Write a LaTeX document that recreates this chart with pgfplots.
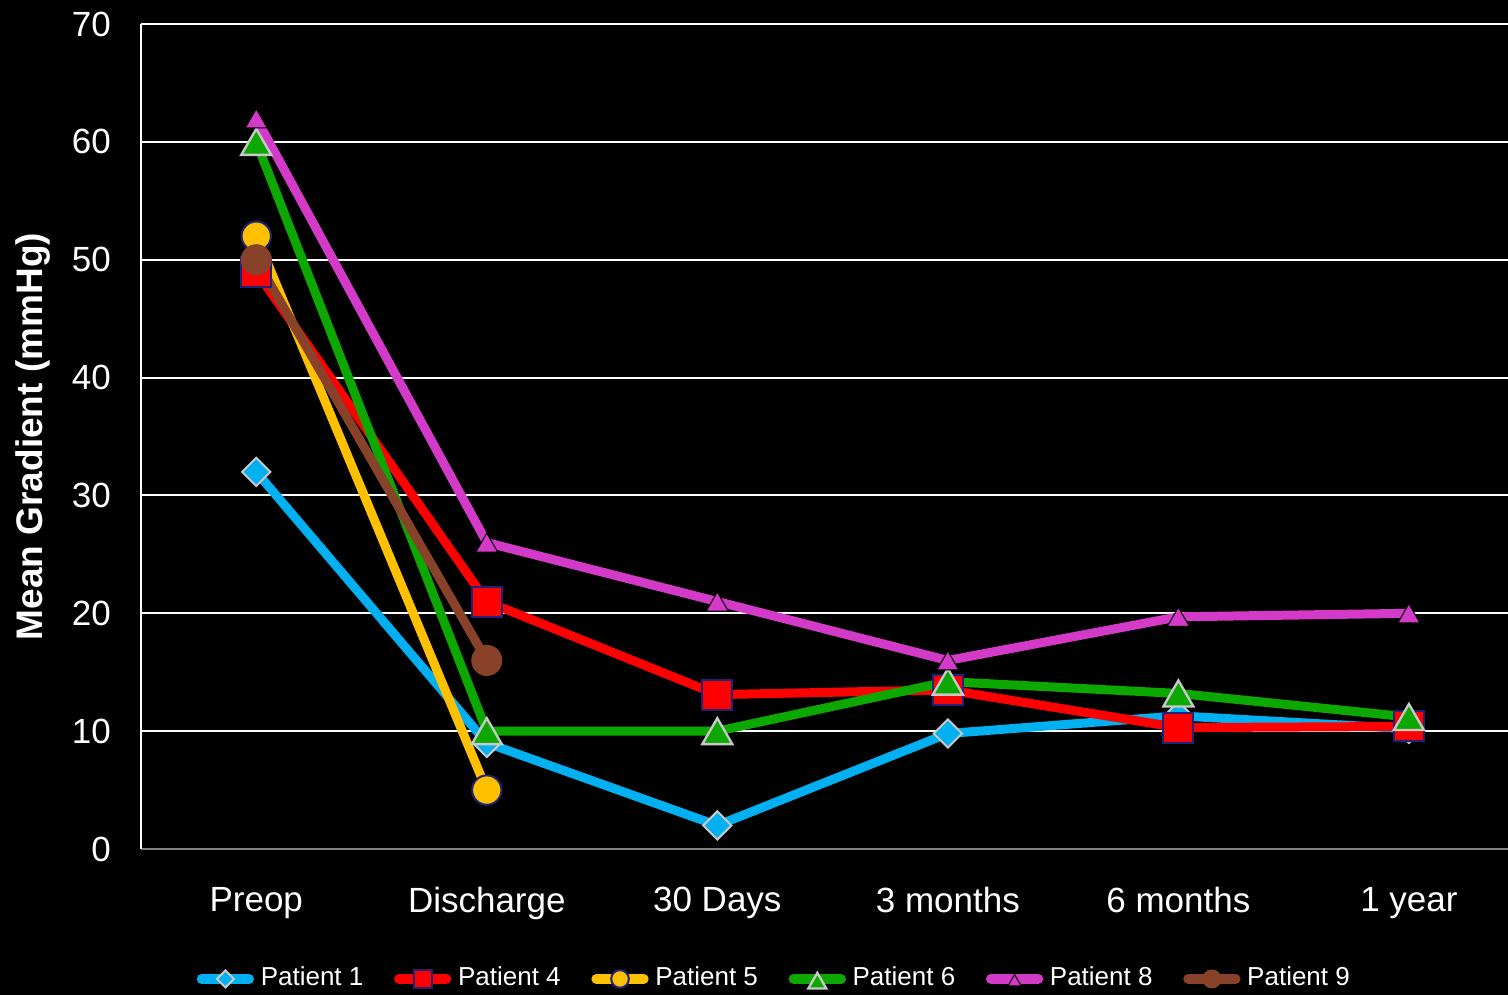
\documentclass[border=0pt]{standalone}
\usepackage{pgfplots}
\pgfplotsset{compat=1.18}
\usepackage{fontspec}
\setmainfont{Liberation Sans}
\definecolor{pcyan}{RGB}{0,176,240}
\definecolor{pred}{RGB}{255,0,0}
\definecolor{pyellow}{RGB}{255,192,0}
\definecolor{pgreen}{RGB}{12,168,0}
\definecolor{pmag}{RGB}{212,58,200}
\definecolor{pbrown}{RGB}{136,66,41}
\definecolor{navy}{RGB}{32,36,120}
\definecolor{lgray}{RGB}{200,200,200}
\begin{document}
\begin{tikzpicture}
\useasboundingbox (-42.3pt,-43.5pt) rectangle (410.1pt,254.7pt);
\fill[black] (-50pt,-50pt) rectangle (420pt,260pt);
\begin{axis}[
  at={(0,0)}, anchor=south west,
  scale only axis, width=410.1pt, height=247.5pt,
  xmin=-0.5, xmax=5.43, ymin=0, ymax=70,
  ytick={0,10,...,70},
  xtick={0,...,5},
  xticklabels={Preop,Discharge,30 Days,3 months,6 months,1 year},
  major tick length=0pt,
  axis lines*=left,
  x axis line style={draw=gray, line width=0.6pt},
  y axis line style={draw=white, line width=0.6pt},
  ymajorgrids, grid style={white, line width=0.6pt},
  /pgf/number format/assume math mode=true,
  tick label style={white, font=\fontsize{10.5}{12}\selectfont},
  yticklabel style={xshift=-5.5pt},
  xticklabel style={yshift=-8pt},
  ylabel={Mean Gradient (mmHg)},
  every axis y label/.style={at={(axis description cs:-0.0787,0.5)}, rotate=90, anchor=center, white, font=\fontsize{11.1}{13}\selectfont\bfseries},
  legend columns=6,
  legend style={at={(0.465,-0.1575)}, anchor=center, fill=none, draw=none, text=white, font=\fontsize{7.8}{9}\selectfont, inner sep=0pt},
  legend cell align=left,
  /tikz/every even column/.append style={column sep=7.2pt},
  legend image code/.code={\draw[mark repeat=2, mark phase=2, line width=3pt, line cap=round, every mark/.append style={scale=0.6}] plot coordinates {(0pt,0pt)(7.1pt,0pt)(14.2pt,0pt)};},
  every axis plot/.append style={line width=2.7pt},
]
\addplot[pcyan, mark=square*, mark size=3pt, mark options={rotate=45, fill=pcyan, draw=lgray, line width=0.6pt}] coordinates {(0,32) (1,9) (2,2) (3,9.8) (4,11.3) (5,10.2)};
\addlegendentry{Patient 1}
\addplot[pred, mark=square*, mark size=4.5pt, mark options={fill=pred, draw=navy, line width=0.6pt}] coordinates {(0,49) (1,21) (2,13.1) (3,13.5) (4,10.3) (5,10.4)};
\addlegendentry{Patient 4}
\addplot[pyellow, mark=*, mark size=4.4pt, mark options={fill=pyellow, draw=navy, line width=0.6pt}] coordinates {(0,52) (1,5)};
\addlegendentry{Patient 5}
\addplot[pgreen, mark=triangle*, mark size=5.2pt, mark options={fill=pgreen, draw=lgray, line width=0.7pt, yshift=-1.3pt}] coordinates {(0,60) (1,10) (2,10) (3,14.2) (4,13.2) (5,11.2)};
\addlegendentry{Patient 6}
\addplot[pmag, mark=triangle*, mark size=3.8pt, mark options={fill=pmag, draw=black, line width=0.3pt, yshift=-0.95pt}] coordinates {(0,62) (1,26) (2,21) (3,16) (4,19.7) (5,20)};
\addlegendentry{Patient 8}
\addplot[pbrown, mark=*, mark size=4.5pt, mark options={fill=pbrown, draw=pbrown, line width=0.3pt}] coordinates {(0,50) (1,16)};
\addlegendentry{Patient 9}
\end{axis}
\end{tikzpicture}
\end{document}
